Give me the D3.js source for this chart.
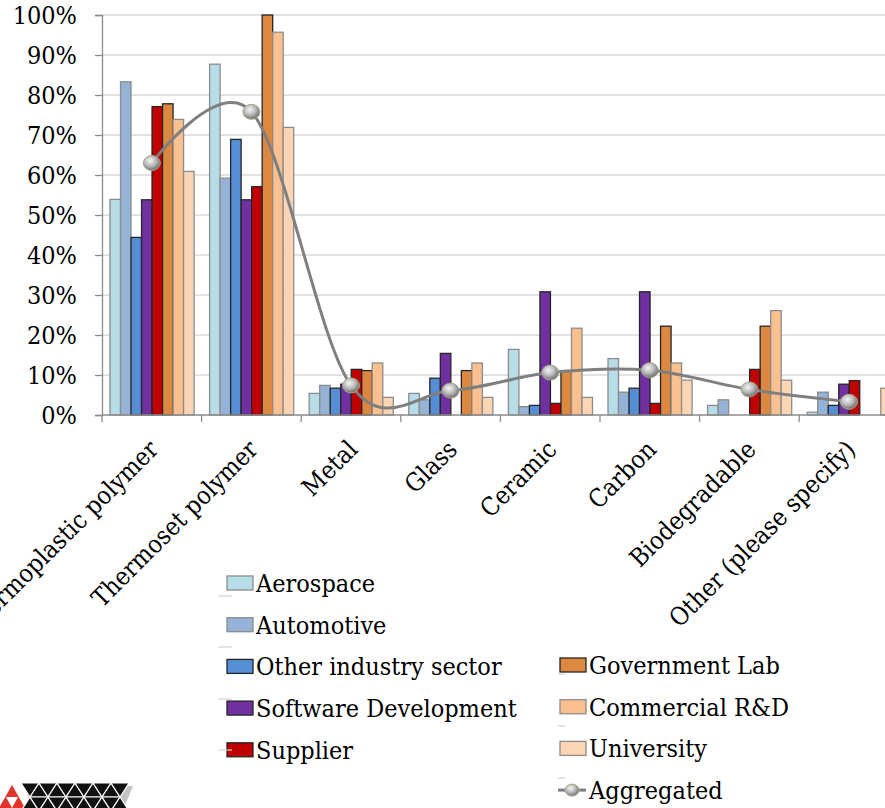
<!DOCTYPE html>
<html>
<head>
<meta charset="utf-8">
<script src="https://cdn.jsdelivr.net/npm/d3@7"></script>
<style>
  html, body { margin: 0; padding: 0; background: #fff; }
  svg { display: block; }
  text { font-family: "DejaVu Serif Condensed", "DejaVu Serif", serif; fill: #000; }
</style>
</head>
<body>
<svg id="chart" width="885" height="808"></svg>
<script>
// Materials asked about, one group of bars each
const categories = ["Thermoplastic polymer", "Thermoset polymer", "Metal", "Glass",
  "Ceramic", "Carbon", "Biodegradable", "Other (please specify)"];

// Share of respondents per sector (percent)
const aerospace     = [53.9, 87.7, 5.4, 5.4, 16.4, 14.1, 2.4, 0.7];
const automotive    = [83.3, 59.2, 7.4, 3.8, 2.1, 5.7, 3.8, 5.7];
const otherIndustry = [44.4, 68.9, 6.7, 9.2, 2.4, 6.7, 0, 2.4];
const software      = [53.8, 53.8, 7.7, 15.4, 30.8, 30.8, 0, 7.7];
const supplier      = [77.1, 57.1, 11.4, 0, 2.9, 2.9, 11.4, 8.6];
const govLab        = [77.8, 100, 11.1, 11.1, 11.1, 22.2, 22.2, 0];
const commercial    = [73.9, 95.7, 13.0, 13.0, 21.7, 13.0, 26.1, 0];
const university    = [60.9, 71.9, 4.4, 4.4, 4.4, 8.7, 8.7, 6.7];
const aggregated    = [63.0, 75.8, 7.4, 6.1, 10.6, 11.2, 6.4, 3.3];

const seriesNames = ["Aerospace", "Automotive", "Other industry sector",
  "Software Development", "Supplier", "Government Lab", "Commercial R&D", "University"];
const yTicks = [0, 10, 20, 30, 40, 50, 60, 70, 80, 90, 100];

const seriesValues = [aerospace, automotive, otherIndustry, software,
  supplier, govLab, commercial, university];
const fills = ["#b7dde8", "#95b3d7", "#558ed5", "#7030a0", "#c00000", "#dd8841", "#fac090", "#fcd5b5"];
const strokes = ["#8c8c8c", "#8c8c8c", "#262626", "#262626", "#262626", "#262626", "#8c8c8c", "#8c8c8c"];

const FS = 25;
const svg = d3.select("#chart");

const x0 = 102, y0 = 415, yTop = 15, step = 99.6;
const x = d3.scaleBand().domain(categories).range([x0, x0 + step * categories.length]);
const xs = d3.scaleBand().domain(seriesNames).range([8, step - 7.5]);
const y = d3.scaleLinear().domain([0, 100]).range([y0, yTop]);

// gradient for the aggregated markers
const defs = svg.append("defs");
const grad = defs.append("radialGradient").attr("id", "ball")
  .attr("cx", "40%").attr("cy", "35%").attr("r", "65%");
grad.append("stop").attr("offset", "0%").attr("stop-color", "#f4f4f4");
grad.append("stop").attr("offset", "55%").attr("stop-color", "#b8b8b8");
grad.append("stop").attr("offset", "100%").attr("stop-color", "#6e6e6e");

// gridlines
svg.append("g").selectAll("line").data(yTicks.slice(1)).join("line")
  .attr("x1", x0).attr("x2", 885)
  .attr("y1", d => y(d)).attr("y2", d => y(d))
  .attr("stroke", "#d9d9d9").attr("stroke-width", 1.3);

// y axis
const yAxis = svg.append("g").attr("transform", `translate(${x0},0)`)
  .call(d3.axisLeft(y).tickValues(yTicks).tickSize(7).tickPadding(18).tickFormat(d => d + "%"));
yAxis.select(".domain").attr("stroke", "#8c8c8c").attr("stroke-width", 1.3);
yAxis.selectAll(".tick line").attr("stroke", "#8c8c8c").attr("stroke-width", 1.3);
yAxis.selectAll(".tick text").attr("font-size", FS)
  .attr("font-family", "\"DejaVu Serif Condensed\", \"DejaVu Serif\", serif").attr("fill", "#000");

// bars
const barGroups = svg.append("g").selectAll("g").data(categories).join("g")
  .attr("transform", d => `translate(${x(d)},0)`);
barGroups.selectAll("rect")
  .data((c, ci) => seriesNames.map((s, si) => ({ s, si, v: seriesValues[si][ci] })).filter(d => d.v > 0))
  .join("rect")
  .attr("x", d => xs(d.s)).attr("width", xs.bandwidth())
  .attr("y", d => y(d.v)).attr("height", d => y0 - y(d.v))
  .attr("fill", d => fills[d.si]).attr("stroke", d => strokes[d.si]).attr("stroke-width", 1.3);

// x axis
const xAxisG = svg.append("g");
xAxisG.append("line").attr("x1", x0).attr("x2", 885).attr("y1", y0).attr("y2", y0)
  .attr("stroke", "#8c8c8c").attr("stroke-width", 1.3);
xAxisG.selectAll("line.tk").data(categories).join("line").attr("class", "tk")
  .attr("x1", d => x(d)).attr("x2", d => x(d)).attr("y1", y0).attr("y2", y0 + 7)
  .attr("stroke", "#8c8c8c").attr("stroke-width", 1.3);
xAxisG.selectAll("text").data(categories).join("text")
  .attr("text-anchor", "end").attr("font-size", FS)
  .attr("transform", d => `translate(${x(d) + x.bandwidth() / 2 + 8},${y0 + 36}) rotate(-45)`)
  .text(d => d);

// aggregated smoothed line + markers
const pts = categories.map((c, i) => [x(c) + x.bandwidth() / 2, y(aggregated[i])]);
svg.append("path").attr("d", d3.line().curve(d3.curveCatmullRom.alpha(0))(pts))
  .attr("fill", "none").attr("stroke", "#7f7f7f").attr("stroke-width", 3);
svg.append("g").selectAll("ellipse").data(pts).join("ellipse")
  .attr("cx", d => d[0]).attr("cy", d => d[1]).attr("rx", 8.5).attr("ry", 7.5)
  .attr("fill", "url(#ball)").attr("stroke", "#a3a98e").attr("stroke-width", 1);

// legend
const legendLeft = seriesNames.slice(0, 5);
const legendRight = seriesNames.slice(5);
const lg = svg.append("g");
const rowH = 41.7;
function swatch(g, xx, yy, i) {
  g.append("rect").attr("x", xx).attr("y", yy - 7).attr("width", 26).attr("height", 14)
    .attr("fill", fills[i]).attr("stroke", strokes[i]).attr("stroke-width", 1.3);
}
legendLeft.forEach((name, k) => {
  const yy = 583 + k * rowH;
  swatch(lg, 227, yy, k);
  lg.append("text").attr("x", 256).attr("y", yy + 9).attr("font-size", FS).text(name);
});
legendRight.forEach((name, k) => {
  const yy = 665 + k * rowH;
  swatch(lg, 560, yy, k + 5);
  lg.append("text").attr("x", 589).attr("y", yy + 9).attr("font-size", FS).text(name);
});
// aggregated legend entry
const ay = 665 + 3 * rowH;
lg.append("line").attr("x1", 558).attr("x2", 586).attr("y1", ay).attr("y2", ay)
  .attr("stroke", "#7f7f7f").attr("stroke-width", 3);
lg.append("ellipse").attr("cx", 572).attr("cy", ay).attr("rx", 7).attr("ry", 6)
  .attr("fill", "url(#ball)").attr("stroke", "#a3a98e").attr("stroke-width", 1);
lg.append("text").attr("x", 589).attr("y", ay + 9).attr("font-size", FS).text("Aggregated");
// faint leftover key strokes beside the legend
[596, 647, 699, 750].forEach(yy => lg.append("line").attr("x1", 218).attr("x2", 232)
  .attr("y1", yy).attr("y2", yy).attr("stroke", "#d4d4d4").attr("stroke-width", 1.2));
[674, 726, 778].forEach(yy => lg.append("line").attr("x1", 558).attr("x2", 565)
  .attr("y1", yy).attr("y2", yy).attr("stroke", "#d4d4d4").attr("stroke-width", 1.2));

// logo, bottom-left corner: red triangle and black triangle lattice
const logo = svg.append("g");
const tw = 18, th = 14, lx = 21, ly = 783;
logo.append("path").attr("d", "M12,785 L25,808 L-1,808 Z").attr("fill", "#e2332b");
logo.append("path").attr("d", "M6,797 L18,797 L12,808 Z").attr("fill", "#ffffff");
function tri(pts, fill, stroke) {
  logo.append("path").attr("d", "M" + pts.map(p => p.join(",")).join(" L") + " Z")
    .attr("fill", fill).attr("stroke", stroke || "none").attr("stroke-width", 1.2);
}
// shadow
tri([[lx + 4, ly + 3], [lx + 6 * tw + 4, ly + 3], [lx + 6 * tw - 6, 810], [lx + 10, 810]], "#c4c4c4");
for (let i = 0; i < 6; i++) {
  const bx = lx + i * tw;
  tri([[bx, ly], [bx + tw, ly], [bx + tw / 2, ly + th]], "#111", "#fff");
  if (i < 5) tri([[bx + tw, ly], [bx + tw * 1.5, ly + th], [bx + tw / 2, ly + th]], "#111", "#fff");
}
for (let i = 0; i < 6; i++) {
  const bx = lx + i * tw;
  tri([[bx + tw / 2, ly + th], [bx + tw, ly + 2 * th], [bx, ly + 2 * th]], "#111", "#fff");
  if (i < 5) tri([[bx + tw / 2, ly + th], [bx + tw * 1.5, ly + th], [bx + tw, ly + 2 * th]], "#111", "#fff");
}
</script>
</body>
</html>
